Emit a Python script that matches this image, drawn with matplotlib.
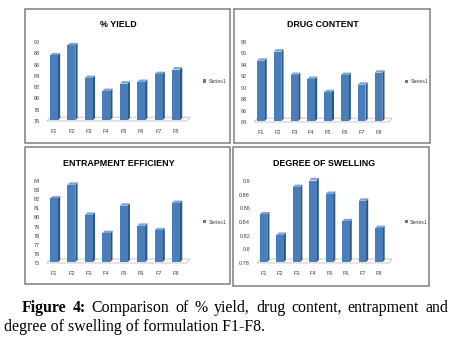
import matplotlib
matplotlib.use("Agg")
import matplotlib.pyplot as plt
from matplotlib.patches import Polygon, Rectangle
import numpy as np

# formulation data
formulations = ["F1", "F2", "F3", "F4", "F5", "F6", "F7", "F8"]
yield_pct = [87.5, 89.3, 83.5, 81.2, 82.5, 82.8, 84.2, 85.0]
drug_content = [94.6, 96.2, 92.1, 91.4, 89.1, 92.1, 90.4, 92.5]
entrapment = [82.0, 83.5, 80.2, 78.2, 81.2, 79.0, 78.5, 81.5]
swelling = [0.85, 0.82, 0.89, 0.90, 0.88, 0.84, 0.87, 0.83]

W, H = 454, 337
FRONT = "#4a7ebb"
SIDE = "#2c5684"
TOP = "#7aa3d6"

plt.rcParams["font.family"] = ["Liberation Sans Narrow", "Liberation Sans"]

fig = plt.figure(figsize=(W / 100, H / 100), dpi=100)


def px_rect(x0, y0, x1, y1):
    return [x0 / W, 1 - y1 / H, (x1 - x0) / W, (y1 - y0) / H]


def panel(box, axbox, title, vals, yticks, ylabels):
    bx0, by0, bx1, by1 = box
    fig.patches.append(Rectangle((bx0 / W, 1 - by1 / H), (bx1 - bx0) / W, (by1 - by0) / H,
                                 transform=fig.transFigure, fill=False,
                                 edgecolor="#7f7f7f", lw=1.1))
    ax = fig.add_axes(px_rect(*axbox))
    ymin, ymax = yticks[0], yticks[-1]
    ax.set_xlim(-0.4, 7.8)
    ax.set_ylim(ymin, ymax)
    for s in ax.spines.values():
        s.set_visible(False)
    ax.patch.set_alpha(0)

    x = np.arange(len(vals))
    w = 0.45
    dx = 0.13
    dy = (ymax - ymin) * 0.03

    # floor of the 3-d chart
    floor = Polygon([(-0.4, ymin), (7.6, ymin), (7.8, ymin + 1.6 * dy), (-0.2, ymin + 1.6 * dy)],
                    closed=True, facecolor="white", edgecolor="#bfbfbf", lw=0.6,
                    clip_on=False, zorder=1)
    ax.add_patch(floor)

    base = ymin + 0.3 * dy
    bars = ax.bar(x, np.array(vals) - ymin, bottom=base, width=w,
                  color=FRONT, zorder=3, label="Series1")
    for xi, v in zip(x, vals):
        v = v + 0.3 * dy
        r = xi + w / 2
        l = xi - w / 2
        ax.add_patch(Polygon([(r, base), (r + dx, base + dy), (r + dx, v + dy), (r, v)],
                             closed=True, facecolor=SIDE, edgecolor="none", zorder=2, clip_on=False))
        ax.add_patch(Polygon([(l, v), (r, v), (r + dx, v + dy), (l + dx, v + dy)],
                             closed=True, facecolor=TOP, edgecolor="none", zorder=2, clip_on=False))

    ax.set_xticks(x)
    ax.set_xticklabels(formulations, fontsize=4, color="#404040")
    ax.set_yticks(yticks)
    ax.set_yticklabels(ylabels, fontsize=4, color="#404040")
    ax.tick_params(length=0, pad=5)
    ax.tick_params(axis="x", pad=6)

    ax.set_title(title, fontsize=6.4, fontweight="bold", pad=11)
    ax.legend(handles=[bars], loc="center left", bbox_to_anchor=(1.06, 0.5), frameon=False,
              fontsize=3.8, handlelength=0.6, handleheight=0.6, handletextpad=0.4,
              labelcolor="#404040")
    return ax


panel((25, 9, 230, 143), (47, 42, 190, 121), "% YIELD", yield_pct,
      list(range(76, 91, 2)), [str(v) for v in range(76, 91, 2)])
panel((234, 9, 430, 143), (254, 42, 392, 122), "DRUG CONTENT", drug_content,
      list(range(84, 99, 2)), [str(v) for v in range(84, 99, 2)])
panel((25, 147, 230, 284), (47, 181, 190, 263), "ENTRAPMENT EFFICIENY", entrapment,
      list(range(75, 85)), [str(v) for v in range(75, 85)])
sw_ticks = [0.78, 0.80, 0.82, 0.84, 0.86, 0.88, 0.90]
panel((233, 147, 429, 286), (257, 181, 392, 263), "DEGREE OF SWELLING", swelling,
      sw_ticks, ["0.78", "0.8", "0.82", "0.84", "0.86", "0.88", "0.9"])

# justified caption
renderer = fig.canvas.get_renderer()
cap_size = 11.4
serif = "Liberation Serif"
line1 = [("Figure", "bold"), ("4:", "bold"), ("Comparison", "normal"), ("of", "normal"),
         ("%", "normal"), ("yield,", "normal"), ("drug", "normal"), ("content,", "normal"),
         ("entrapment", "normal"), ("and", "normal")]
texts = []
for word, weight in line1:
    t = fig.text(0, 1 - 312 / H, word, fontsize=cap_size, family=serif, fontweight=weight,
                 va="baseline", ha="left")
    texts.append(t)
widths = [t.get_window_extent(renderer).width for t in texts]
x_start, x_end = 22, 448
gap = (x_end - x_start - sum(widths)) / (len(texts) - 1)
xpos = x_start
for t, wd in zip(texts, widths):
    t.set_x(xpos / W)
    xpos += wd + gap

fig.text(4 / W, 1 - 331 / H, "degree of swelling of formulation F1-F8.", fontsize=cap_size,
         family=serif, va="baseline", ha="left")

fig.savefig("out.png", dpi=100)
